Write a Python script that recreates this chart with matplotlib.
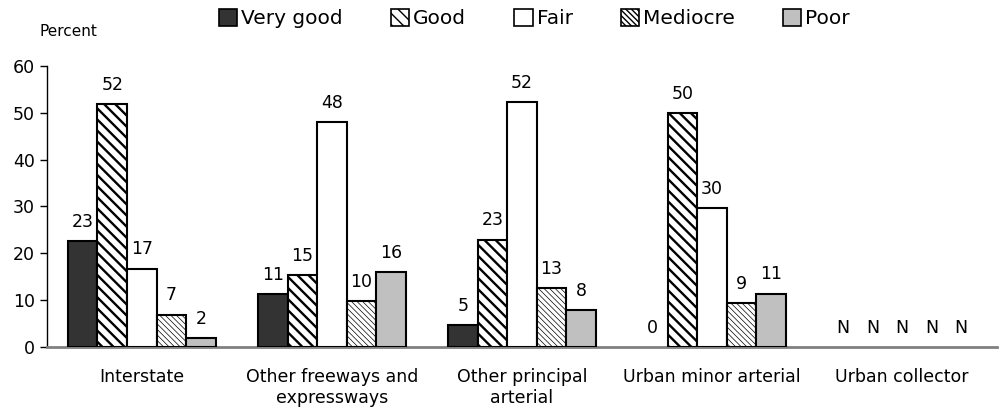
import matplotlib
matplotlib.use("Agg")
import matplotlib.pyplot as plt
import numpy as np
from matplotlib.patches import Patch

categories = ["Interstate", "Other freeways and\nexpressways", "Other principal\narterial",
              "Urban minor arterial", "Urban collector"]
series = ["Very good", "Good", "Fair", "Mediocre", "Poor"]
very_good = [22.6, 11.2, 4.6, 0.0, np.nan]
good = [51.9, 15.3, 22.9, 49.9, np.nan]
fair = [16.7, 48.0, 52.2, 29.6, np.nan]
mediocre = [6.9, 9.8, 12.6, 9.3, np.nan]
poor = [1.9, 16.0, 7.9, 11.4, np.nan]
labels_vg = ["23", "11", "5", "0", "N"]
labels_good = ["52", "15", "23", "50", "N"]
labels_fair = ["17", "48", "52", "30", "N"]
labels_med = ["7", "10", "13", "9", "N"]
labels_poor = ["2", "16", "8", "11", "N"]

values = [very_good, good, fair, mediocre, poor]
labels = [labels_vg, labels_good, labels_fair, labels_med, labels_poor]

plt.rcParams['font.family'] = ['DejaVu Sans']
fs = 12.5

styles = [
    dict(facecolor="#333333", hatch=None, hlw=1.0),
    dict(facecolor="white", hatch="\\" * 3, hlw=1.7),
    dict(facecolor="white", hatch=None, hlw=1.0),
    dict(facecolor="white", hatch="\\" * 6, hlw=0.5),
    dict(facecolor="#c0c0c0", hatch=None, hlw=1.0),
]

fig = plt.figure(figsize=(9.99, 4.12), dpi=100)
ax = fig.add_axes([0.047, 0.158, 0.951, 0.682])

x = np.arange(len(categories))
bw = 0.156
handles = []
for i, (vals, labs, st) in enumerate(zip(values, labels, styles)):
    pos = x + (i - 2) * bw
    with plt.rc_context({'hatch.linewidth': st['hlw'], 'hatch.color': 'black'}):
        v = np.nan_to_num(np.array(vals, dtype=float))
        bars = ax.bar(pos, v, width=bw, facecolor=st['facecolor'], edgecolor='black',
                      linewidth=1.5, hatch=st['hatch'], zorder=3)
        for b, val in zip(bars, vals):
            if np.isnan(val) or val == 0:
                b.set_linewidth(0)
            if hasattr(b, 'set_hatch_linewidth'):
                b.set_hatch_linewidth(st['hlw'])
        h = Patch(facecolor=st['facecolor'], edgecolor='black', linewidth=1.2,
                  hatch=st['hatch'], label=series[i])
        if hasattr(h, 'set_hatch_linewidth'):
            h.set_hatch_linewidth(min(st['hlw'], 1.2))
        handles.append(h)
    for p, val, lab in zip(pos, vals, labs):
        y = 0 if np.isnan(val) else val
        ax.text(p, y + 2.2, lab, ha='center', va='bottom', fontsize=fs)

ax.set_xlim(-0.5, len(categories) - 0.5)
ax.set_ylim(0, 60)
ax.set_yticks([0, 10, 20, 30, 40, 50, 60])
ax.set_xticks(x)
ax.set_xticklabels(categories, fontsize=fs)
ax.tick_params(axis='y', labelsize=fs, direction='out', length=5, width=1)
ax.tick_params(axis='x', length=0, pad=15)
for s in ['top', 'right']:
    ax.spines[s].set_visible(False)
ax.spines['left'].set_color('black')
ax.spines['left'].set_linewidth(1)
ax.spines['bottom'].set_color('#808080')
ax.spines['bottom'].set_linewidth(2)

fig.text(0.040, 0.905, "Percent", fontsize=11, ha='left', va='bottom')

fig.legend(handles=handles, loc='center', bbox_to_anchor=(0.535, 0.955), ncol=5,
           frameon=False, fontsize=14.5, handlelength=0.9, handleheight=0.9,
           handletextpad=0.2, columnspacing=2.4)

fig.savefig("out.png", dpi=100)
